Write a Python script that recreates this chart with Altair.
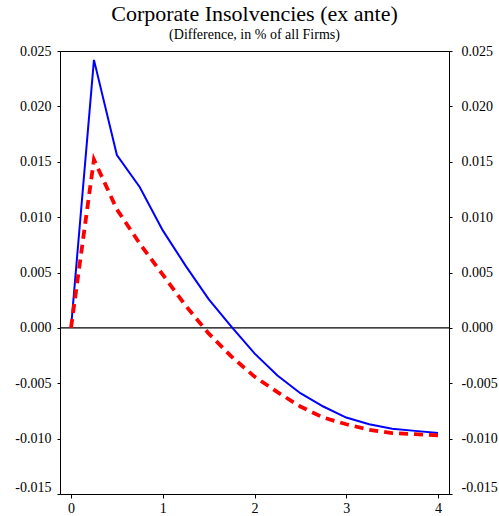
import altair as alt
import pandas as pd

# Quarterly horizon (years) and the two insolvency response paths
horizon = [0.0, 0.25, 0.5, 0.75, 1.0, 1.25, 1.5, 1.75, 2.0, 2.25, 2.5, 2.75, 3.0, 3.25, 3.5, 3.75, 4.0]
solid_path = [0.0, 0.0242, 0.0156, 0.0127, 0.0088, 0.0056, 0.0026, 0.0001, -0.0023,
              -0.0043, -0.0059, -0.0071, -0.0081, -0.0087, -0.0091, -0.0093, -0.0095]
dashed_path = [0.0, 0.0152, 0.0107, 0.0076, 0.0048, 0.0020, -0.0005, -0.0026, -0.0044,
               -0.0058, -0.0071, -0.0081, -0.0087, -0.0092, -0.0095, -0.0096, -0.0097]

x_ticks = [0, 1, 2, 3, 4]
y_ticks = [-0.015, -0.010, -0.005, 0.0, 0.005, 0.010, 0.015, 0.020, 0.025]

df = pd.DataFrame({"t": horizon, "solid": solid_path, "dashed": dashed_path})
zero_df = pd.DataFrame({"t0": [-0.12], "t1": [4.12], "v": [0.0]})

FONT = "Liberation Serif"
label_expr = "datum.value < 0 ? '-' + format(-datum.value, '.3f') : format(datum.value, '.3f')"
# lowest tick label sits just above the bottom frame
bottom_baseline = {"condition": {"test": "datum.value < -0.014", "value": "bottom"}, "value": "middle"}

x_scale = alt.Scale(domain=[-0.12, 4.12], nice=False, zero=False)
y_scale = alt.Scale(domain=[-0.015, 0.025], nice=False, zero=False)

x_axis = alt.Axis(values=x_ticks, title=None, grid=False, format="d", labelFont=FONT,
                  labelFontSize=14, labelColor="black", tickColor="black", domainColor="black",
                  tickSize=4, labelPadding=3, labelFlush=False)

y_common = dict(values=y_ticks, title=None, grid=False, labelExpr=label_expr,
                labelFont=FONT, labelFontSize=14, labelColor="black", tickColor="black",
                domainColor="black", tickSize=3, labelFlush=False, labelBaseline=bottom_baseline)
left_axis = alt.Axis(orient="left", labelPadding=6, **y_common)
right_axis = alt.Axis(orient="right", labelPadding=9, **y_common)

base = alt.Chart(df)

solid = base.mark_line(color="#0000ff", strokeWidth=2).encode(
    x=alt.X("t:Q", scale=x_scale, axis=x_axis),
    y=alt.Y("solid:Q", scale=y_scale, axis=left_axis),
)

dashed = base.mark_line(color="#ff0000", strokeWidth=3.8, strokeDash=[9, 6]).encode(
    x=alt.X("t:Q", scale=x_scale, axis=x_axis),
    y=alt.Y("dashed:Q", scale=y_scale, axis=right_axis),
)

zero_line = alt.Chart(zero_df).mark_rule(color="black", strokeWidth=1.2).encode(
    x=alt.X("t0:Q", scale=x_scale, axis=x_axis),
    x2="t1:Q",
    y=alt.Y("v:Q", scale=y_scale, axis=None),
)

chart = alt.layer(zero_line, solid, dashed).properties(
    width=389,
    height=443,
    background="white",
    title=alt.TitleParams(
        text="Corporate Insolvencies (ex ante)",
        subtitle="(Difference, in % of all Firms)",
        font=FONT, fontSize=22, fontWeight="normal", color="black",
        subtitleFont=FONT, subtitleFontSize=14, subtitleColor="black",
        subtitlePadding=2, anchor="middle", frame="group", offset=1,
    ),
    autosize=alt.AutoSizeParams(type="none"),
    padding={"left": 60, "top": 51, "right": 50, "bottom": 22},
).configure_view(stroke="black", strokeWidth=1)

chart.save("out.html", embed_options={"renderer": "svg", "actions": False})
